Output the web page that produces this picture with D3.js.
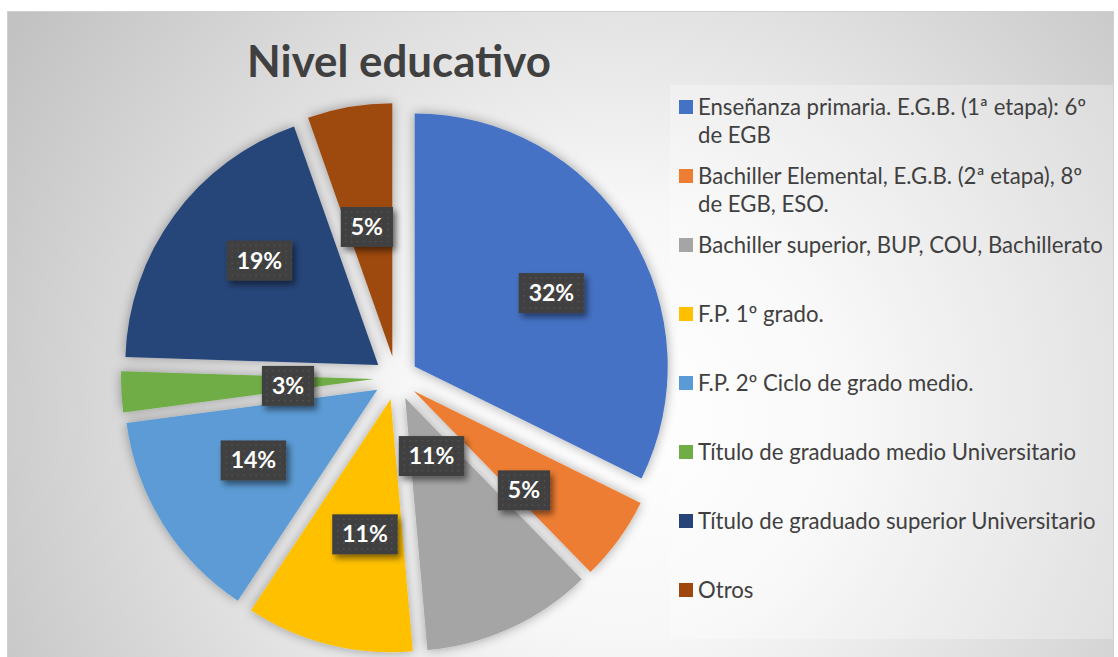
<!DOCTYPE html>
<html>
<head>
<meta charset="utf-8">
<script src="https://cdn.jsdelivr.net/npm/d3@7"></script>
<style>
  html, body { margin: 0; padding: 0; background: #ffffff; }
  svg { display: block; }
</style>
</head>
<body>
<svg id="chart" width="1118" height="657"></svg>
<script>
// ---- Data ----
const title = "Nivel educativo";
const categories = [
  "Enseñanza primaria. E.G.B. (1ª etapa): 6º de EGB",
  "Bachiller Elemental, E.G.B. (2ª etapa), 8º de EGB, ESO.",
  "Bachiller superior, BUP, COU, Bachillerato",
  "F.P. 1º grado.",
  "F.P. 2º Ciclo de grado medio.",
  "Título de graduado medio Universitario",
  "Título de graduado superior Universitario",
  "Otros"
];
const values = [32.3, 5.4, 10.9, 10.7, 13.6, 2.6, 19.1, 5.4];
const colors = ["#4472C4", "#ED7D31", "#A5A5A5", "#FFC000", "#5B9BD5", "#70AD47", "#264478", "#9E480E"];
// best-fit label placement: distance from pie centre (fraction of radius) and angular nudge (deg)
const labelRadius = [0.70, 0.673, 0.339, 0.63, 0.651, 0.428, 0.712, 0.608];
const labelShift = [3.2, 5.3, 0.2, -3, 2, -1.3, 4.5, -1.2];

// ---- Layout ----
const W = 1118, H = 657;
const cx = 396, cy = 378, R = 253, explode = 22;

const svg = d3.select("#chart");
const defs = svg.append("defs");

// background radial gradient
const bg = defs.append("radialGradient").attr("id", "bgGrad")
  .attr("gradientUnits", "userSpaceOnUse")
  .attr("cx", 620).attr("cy", 420).attr("r", 720);
bg.append("stop").attr("offset", "0%").attr("stop-color", "#ffffff");
bg.append("stop").attr("offset", "30%").attr("stop-color", "#f7f7f7");
bg.append("stop").attr("offset", "100%").attr("stop-color", "#c2c2c2");

// slice shadow
const sh = defs.append("filter").attr("id", "sliceShadow")
  .attr("x", "-20%").attr("y", "-20%").attr("width", "140%").attr("height", "140%");
sh.append("feGaussianBlur").attr("in", "SourceAlpha").attr("stdDeviation", 6).attr("result", "b");
sh.append("feOffset").attr("in", "b").attr("dx", 0).attr("dy", 0).attr("result", "o");
sh.append("feComponentTransfer").attr("in", "o").attr("result", "s")
  .append("feFuncA").attr("type", "linear").attr("slope", 0.35);
const shm = sh.append("feMerge");
shm.append("feMergeNode").attr("in", "s");
shm.append("feMergeNode").attr("in", "SourceGraphic");

// label shadow
const lsh = defs.append("filter").attr("id", "labelShadow")
  .attr("x", "-30%").attr("y", "-30%").attr("width", "170%").attr("height", "180%");
lsh.append("feGaussianBlur").attr("in", "SourceAlpha").attr("stdDeviation", 3).attr("result", "b");
lsh.append("feOffset").attr("in", "b").attr("dx", 3).attr("dy", 4).attr("result", "o");
lsh.append("feComponentTransfer").attr("in", "o").attr("result", "s")
  .append("feFuncA").attr("type", "linear").attr("slope", 0.5);
const lshm = lsh.append("feMerge");
lshm.append("feMergeNode").attr("in", "s");
lshm.append("feMergeNode").attr("in", "SourceGraphic");

// dotted pattern for label boxes
const pat = defs.append("pattern").attr("id", "dots")
  .attr("patternUnits", "userSpaceOnUse").attr("width", 6).attr("height", 6);
pat.append("rect").attr("width", 6).attr("height", 6).attr("fill", "#404040");
pat.append("rect").attr("x", 2).attr("y", 2).attr("width", 1.4).attr("height", 1.4).attr("fill", "#575757");

// chart area
svg.append("rect").attr("x", 0).attr("y", 0).attr("width", W).attr("height", H).attr("fill", "#ffffff");
svg.append("rect")
  .attr("x", 7.5).attr("y", 11.5).attr("width", 1106).attr("height", 660)
  .attr("fill", "url(#bgGrad)").attr("stroke", "#d0d0d0").attr("stroke-width", 1);

// legend panel
svg.append("rect")
  .attr("x", 670).attr("y", 85).attr("width", 443).attr("height", 554)
  .attr("fill", "#ffffff").attr("fill-opacity", 0.28);

// ---- Pie ----
const pie = d3.pie().sort(null).value(d => d)
  .startAngle(0).endAngle(2 * Math.PI);
const arcs = pie(values);
const total = d3.sum(values);
const arc = d3.arc().innerRadius(0).outerRadius(R);

const gPie = svg.append("g").attr("transform", `translate(${cx},${cy})`);
gPie.selectAll("path.slice")
  .data(arcs)
  .join("path")
  .attr("class", "slice")
  .attr("transform", d => {
    const m = (d.startAngle + d.endAngle) / 2;
    return `translate(${explode * Math.sin(m)},${-explode * Math.cos(m)})`;
  })
  .attr("d", arc)
  .attr("fill", (d, i) => colors[i])
  .attr("filter", "url(#sliceShadow)");

// ---- Data labels ----
const fontFam = "Lato, 'Open Sans', sans-serif";
const gLab = gPie.selectAll("g.lab")
  .data(arcs)
  .join("g")
  .attr("class", "lab")
  .attr("transform", (d, i) => {
    const s = labelShift[i] * Math.PI / 180;
    const nd = { startAngle: d.startAngle + s, endAngle: d.endAngle + s };
    const a = d3.arc().innerRadius(R * labelRadius[i]).outerRadius(R * labelRadius[i]);
    const [x, y] = a.centroid(nd);
    return `translate(${x},${y})`;
  });
gLab.each(function (d, i) {
  const g = d3.select(this);
  const txt = Math.round(d.value / total * 100) + "%";
  const t = g.append("text")
    .attr("text-anchor", "middle")
    .attr("y", 8)
    .attr("font-family", fontFam)
    .attr("font-weight", 700)
    .attr("font-size", 23)
    .attr("fill", "#ffffff")
    .text(txt);
  const w = t.node().getComputedTextLength();
  const bw = w + 20, bh = 40;
  g.insert("rect", "text")
    .attr("x", -bw / 2).attr("y", -bh / 2)
    .attr("width", bw).attr("height", bh)
    .attr("fill", "url(#dots)")
    .attr("filter", "url(#labelShadow)");
});

// ---- Title ----
const tt = svg.append("text")
  .attr("x", 399).attr("y", 77)
  .attr("text-anchor", "middle")
  .attr("font-family", fontFam)
  .attr("font-weight", 700)
  .attr("font-size", 40)
  .attr("fill", "#404040")
  .text(title);
{
  const w = tt.node().getComputedTextLength();
  tt.attr("font-size", 40 * 304 / w);
}

// ---- Legend ----
const legX = 679, legY0 = 107, legStep = 69, lineH = 28, textX = 698;
const probe = svg.append("text").attr("font-family", fontFam).attr("font-size", 20)
  .text(categories[2]);
const legFont = 20 * 405 / probe.node().getComputedTextLength();
probe.remove();
const maxW = 410;

const gLeg = svg.append("g");
categories.forEach((c, i) => {
  const y = legY0 + i * legStep;
  gLeg.append("rect")
    .attr("x", legX).attr("y", y - 7)
    .attr("width", 14).attr("height", 14)
    .attr("fill", colors[i]);
  const t = gLeg.append("text")
    .attr("x", textX).attr("y", y + 7.5)
    .attr("font-family", fontFam)
    .attr("font-size", legFont)
    .attr("fill", "#404040");
  const words = c.split(" ");
  let line = [];
  let ts = t.append("tspan").attr("x", textX).attr("dy", 0);
  words.forEach(wd => {
    line.push(wd);
    ts.text(line.join(" "));
    if (ts.node().getComputedTextLength() > maxW && line.length > 1) {
      line.pop();
      ts.text(line.join(" "));
      line = [wd];
      ts = t.append("tspan").attr("x", textX).attr("dy", lineH).text(wd);
    }
  });
});
</script>
</body>
</html>
